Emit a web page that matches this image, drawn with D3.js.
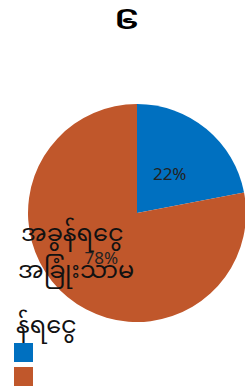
<!DOCTYPE html>
<html>
<head>
<meta charset="utf-8">
<script src="https://cdn.jsdelivr.net/npm/d3@7"></script>
<style>
  body { margin: 0; background: #fff; }
  text { font-family: "Noto Sans Myanmar", "Noto Sans", "DejaVu Sans", sans-serif; }
</style>
</head>
<body>
<div id="chart"></div>
<script>
// data
const categories = ["န်ရငွေ", "အခွန်ရငွေ အခြုံးသာမ"];
const values = [22, 78];
const colors = ["#0070c0", "#c0572b"];
const chartTitle = "၆";
const legendTitle = "န်ရငွေ";

const width = 245, height = 387;
const cx = 137, cy = 213, radius = 109;

const svg = d3.select("#chart").append("svg")
  .attr("width", width)
  .attr("height", height);

// Title (stretched to look like the wide reference glyph)
svg.append("text")
  .attr("transform", "translate(127,28.5) scale(1.35,0.8)")
  .attr("text-anchor", "middle")
  .style("font-size", "24px")
  .style("font-weight", "bold")
  .text(chartTitle);

const pie = d3.pie().sort(null).value(d => d);
const arc = d3.arc().innerRadius(0).outerRadius(radius);
const arcs = pie(values);

const g = svg.append("g").attr("transform", `translate(${cx},${cy})`);

g.selectAll("path")
  .data(arcs)
  .enter()
  .append("path")
  .attr("d", arc)
  .attr("fill", (d, i) => colors[i]);

// percentage labels
const labelArc = d3.arc().innerRadius(radius * 0.6).outerRadius(radius * 0.6);
g.selectAll(".pct")
  .data(arcs)
  .enter()
  .append("text")
  .attr("class", "pct")
  .attr("transform", (d, i) => {
    const c = labelArc.centroid(d);
    return i === 0 ? `translate(${c[0] - 9},${c[1] + 17})` : `translate(${c[0] + 6},${c[1] + 1})`;
  })
  .attr("text-anchor", "middle")
  .style("font-size", "17px")
  .style("fill", "#222")
  .text(d => d.data + "%");

// category label on big slice
const catLines = categories[1].split(" ");
const cat = svg.append("text")
  .attr("x", 20)
  .attr("y", 241)
  .style("font-size", "24px")
  .style("fill", "#111");
catLines.forEach((line, i) => {
  cat.append("tspan")
    .attr("x", i === 0 ? 21 : 18)
    .attr("dy", i === 0 ? 0 : 37)
    .text(line);
});

// legend
svg.append("text")
  .attr("x", 16)
  .attr("y", 333)
  .style("font-size", "24px")
  .style("fill", "#111")
  .text(legendTitle);

svg.selectAll(".legend")
  .data(values)
  .enter()
  .append("rect")
  .attr("class", "legend")
  .attr("x", 14)
  .attr("y", (d, i) => 343 + i * 24)
  .attr("width", 19)
  .attr("height", 19)
  .attr("fill", (d, i) => colors[i]);
</script>
</body>
</html>
